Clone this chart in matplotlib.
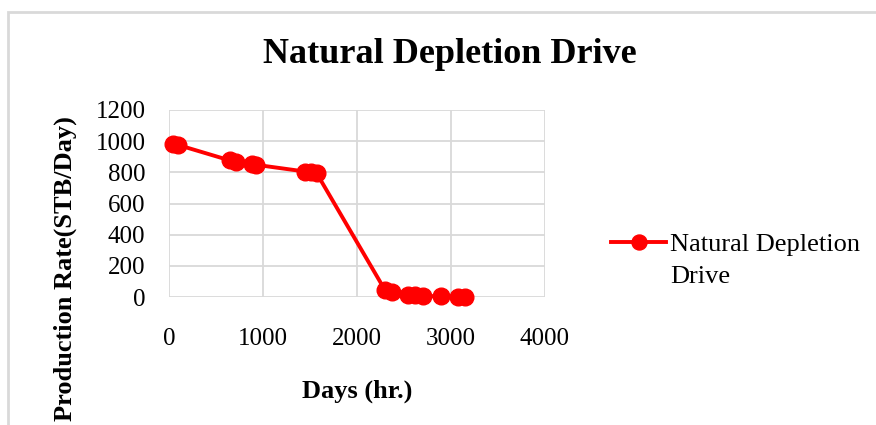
import matplotlib
matplotlib.use("Agg")
import matplotlib.pyplot as plt
from matplotlib.patches import Rectangle

# ---- data ----
days = [45, 100, 650, 715, 880, 930, 1450, 1510, 1570, 2300, 2375, 2540, 2620, 2700, 2895, 3070, 3145]
rate = [980, 975, 876, 868, 853, 848, 805, 800, 795, 42, 30, 15, 10, 7, 4, 3, 2]
series_label_lines = ["Natural Depletion", "Drive"]
title = "Natural Depletion Drive"
xlabel = "Days (hr.)"
ylabel = "Production Rate(STB/Day)"
xticks = [0, 1000, 2000, 3000, 4000]
yticks = [0, 200, 400, 600, 800, 1000, 1200]

W, H = 876, 425
plt.rcParams['font.family'] = ['Liberation Serif', 'DejaVu Serif']
fig = plt.figure(figsize=(W / 100, H / 100), dpi=100)

# outer chart border (light gray)
fig.patches.append(Rectangle((8 / W, -0.05), 1.2, 1 - 12 / H + 0.05, transform=fig.transFigure,
                             fill=False, edgecolor='#d9d9d9', lw=2))

ax = fig.add_axes([169 / W, 1 - 297 / H, 376 / W, 187 / H])
ax.plot(days, rate, color='#ff0000', lw=2.8, marker='o', markersize=12,
        markerfacecolor='#ff0000', markeredgecolor='#ff0000', label=series_label_lines[0],
        clip_on=False, zorder=3)
ax.set_xlim(0, 4000)
ax.set_ylim(0, 1200)
ax.set_xticks(xticks)
ax.set_yticks(yticks)
ax.grid(True, color='#d9d9d9', lw=1.3)
ax.set_axisbelow(True)
for s in ax.spines.values():
    s.set_visible(False)
ax.tick_params(axis='both', length=0, labelsize=18)
ax.tick_params(axis='x', pad=22)
ax.tick_params(axis='y', pad=17)

fig.text(450 / W, 1 - 63 / H, title, ha='center', va='baseline', fontsize=26, fontweight='bold')
fig.text(357 / W, 1 - 398 / H, xlabel, ha='center', va='baseline', fontsize=19, fontweight='bold')
fig.text(65 / W, 1 - 116 / H, ylabel, ha='center', va='top', rotation=90, fontsize=19, fontweight='bold')

leg = ax.legend(loc='upper left', bbox_to_anchor=(611 / W, 1 - 233 / H), bbox_transform=fig.transFigure,
                frameon=False, fontsize=19, handlelength=2.1, handletextpad=0.15,
                borderpad=0, borderaxespad=0, markerscale=0.9)
fig.text(670 / W, 1 - 283 / H, series_label_lines[1], ha='left', va='baseline', fontsize=19)

fig.savefig("out.png", dpi=100)
